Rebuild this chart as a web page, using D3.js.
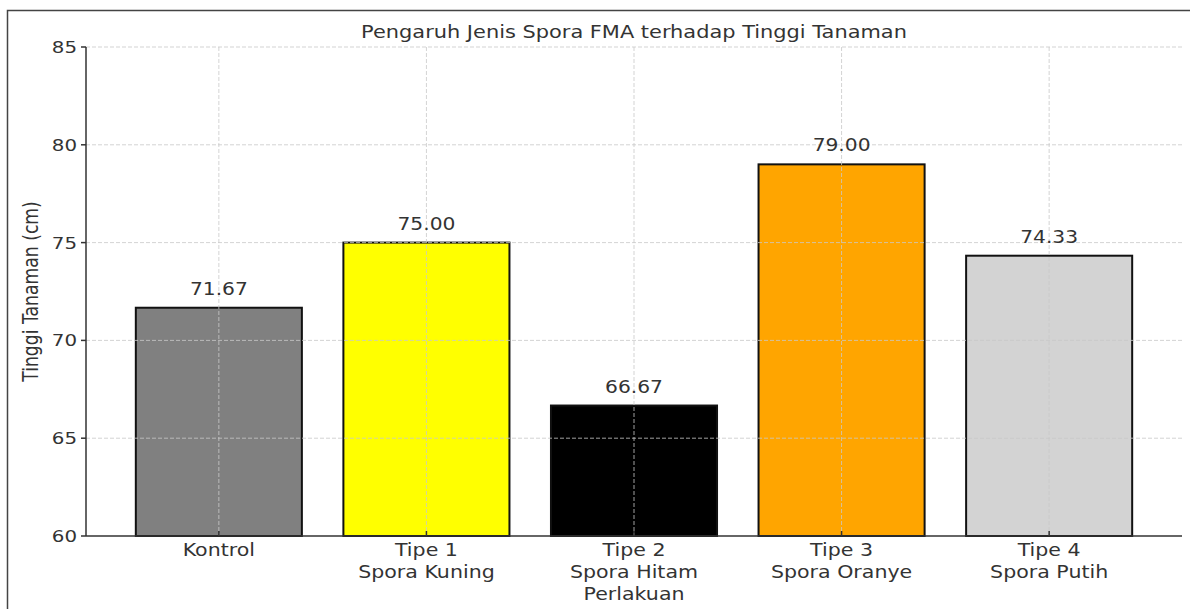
<!DOCTYPE html>
<html><head><meta charset="utf-8">
<script src="https://cdn.jsdelivr.net/npm/d3@7"></script>
<style>body{margin:0;background:#fff}svg{display:block}text{font-family:"DejaVu Sans",sans-serif;fill:#333}</style>
</head><body>
<svg id="c" width="1190" height="609"></svg>
<script>
const categories = [["Kontrol"],["Tipe 1","Spora Kuning"],["Tipe 2","Spora Hitam"],["Tipe 3","Spora Oranye"],["Tipe 4","Spora Putih"]];
const values = [71.67, 75.00, 66.67, 79.00, 74.33];
const colors = ["#808080","#ffff00","#000000","#ffa500","#d3d3d3"];
const yTicks = [60,65,70,75,80,85];
const title = "Pengaruh Jenis Spora FMA terhadap Tinggi Tanaman";
const xLabel = "Perlakuan";
const yLabel = "Tinggi Tanaman (cm)";

const svg = d3.select("#c");
const sx = 1.2; // horizontal stretch of the source
const L = 86, R = 1182, T = 47, B = 536;
const idx = d3.range(values.length);
const x = d3.scaleLinear().domain([-0.64, values.length - 1 + 0.64]).range([L, R]);
const y = d3.scaleLinear().domain([60, 85]).range([B, T]);
const bw = x(0.4) - x(-0.4);

// frame
svg.append("path").attr("d","M7.5,609 V10.5 H1190").attr("fill","none").attr("stroke","#444").attr("stroke-width",1.5);

// bars
svg.selectAll("rect.bar").data(idx).enter().append("rect")
  .attr("x", i => x(i) - bw/2).attr("width", bw)
  .attr("y", i => y(values[i])).attr("height", i => y(60) - y(values[i]))
  .attr("fill", i => colors[i]).attr("stroke", "#111").attr("stroke-width", 2);

// grid (on top)
const g = svg.append("g").attr("stroke","#c8c8c8").attr("stroke-opacity",0.8).attr("stroke-dasharray","4,2").attr("stroke-width",1);
yTicks.forEach(t => { if (t>60) g.append("line").attr("x1",L).attr("x2",R).attr("y1",y(t)).attr("y2",y(t)); });
idx.forEach(i => g.append("line").attr("x1",x(i)).attr("x2",x(i)).attr("y1",T).attr("y2",B));

// axes
const ax = svg.append("g").attr("stroke","#333").attr("stroke-width",1.5).attr("fill","none");
ax.append("line").attr("x1",L).attr("x2",L).attr("y1",T).attr("y2",B);
ax.append("line").attr("x1",L).attr("x2",R).attr("y1",B).attr("y2",B);
yTicks.forEach(t => ax.append("line").attr("x1",L-5).attr("x2",L).attr("y1",y(t)).attr("y2",y(t)));
idx.forEach(i => ax.append("line").attr("x1",x(i)).attr("x2",x(i)).attr("y1",B-5).attr("y2",B));

function txt(xp, yp, s, size, anchor, sc) {
  return svg.append("text").attr("transform",`translate(${xp},${yp}) scale(${sc||sx},1)`)
    .attr("text-anchor",anchor||"middle").attr("font-size",size).text(s);
}
// y tick labels
yTicks.forEach(t => txt(L-9, y(t)+6, t, 16.5, "end"));
// x tick labels
idx.forEach(i => categories[i].forEach((s,k) => txt(x(i), 556 + k*22, s, 17, "middle", 1.21)));
// value labels
idx.forEach(i => txt(x(i), y(values[i]) - 13, values[i].toFixed(2), 17, "middle", 1.19));
// title
txt((L+R)/2, 38, title, 17, "middle", 1.23);
// x label
txt((L+R)/2, 600, xLabel, 17, "middle", 1.21);
// y label
svg.append("text").attr("transform",`translate(38,${(T+B)/2}) scale(1.2,1) rotate(-90)`)
  .attr("text-anchor","middle").attr("font-size",17.2).text(yLabel);
</script>
</body></html>
